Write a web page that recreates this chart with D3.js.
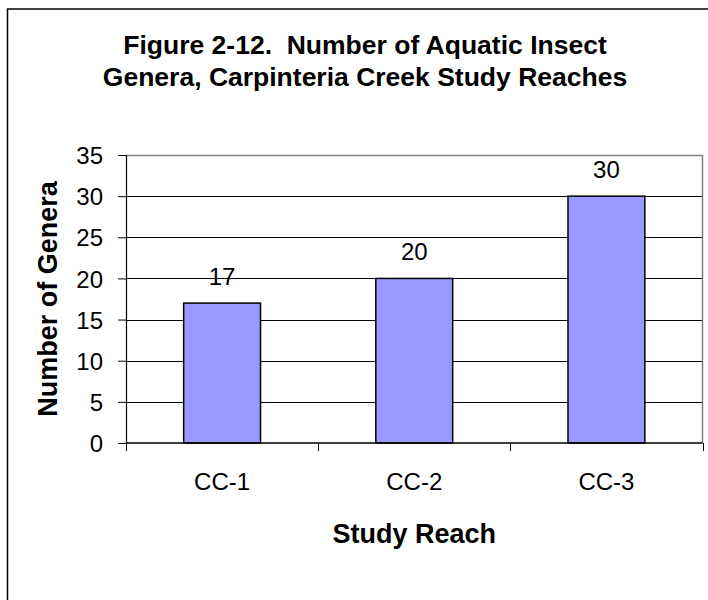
<!DOCTYPE html>
<html>
<head>
<meta charset="utf-8">
<script src="https://cdn.jsdelivr.net/npm/d3@7/dist/d3.min.js"></script>
<style>
  html, body { margin: 0; padding: 0; background: #fff; }
  svg { display: block; font-family: "Liberation Sans", Arial, sans-serif; }
  text { white-space: pre; }
</style>
</head>
<body>
<svg id="chart" width="708" height="600"></svg>
<script>
// Study reaches and the number of aquatic insect genera found in each
const reaches = ["CC-1", "CC-2", "CC-3"];
const genera = [17, 20, 30];
const yTicks = [0, 5, 10, 15, 20, 25, 30, 35];
const titleLines = ["Figure 2-12.  Number of Aquatic Insect", "Genera, Carpinteria Creek Study Reaches"];

const svg = d3.select("#chart");

// chart frame
svg.append("rect")
  .attr("x", 7.5).attr("y", 9)
  .attr("width", 740).attr("height", 640)
  .attr("fill", "#fff").attr("stroke", "#000").attr("stroke-width", 1.5);

const plot = { left: 126, right: 702.5, top: 155, bottom: 443 };

const x = d3.scaleBand().domain(reaches).range([plot.left, plot.right]).paddingInner(0).paddingOuter(0);
const y = d3.scaleLinear().domain([0, 35]).range([plot.bottom, plot.top]);

// horizontal gridlines
svg.append("g")
  .selectAll("line")
  .data(yTicks.filter(d => d > 0 && d < 35))
  .join("line")
  .attr("x1", plot.left).attr("x2", plot.right)
  .attr("y1", d => Math.round(y(d)) + 0.5).attr("y2", d => Math.round(y(d)) + 0.5)
  .attr("stroke", "#000").attr("stroke-width", 1);

// plot border (top and right)
svg.append("path")
  .attr("d", `M${plot.left},${plot.top + 0.5}H${plot.right}V${plot.bottom}`)
  .attr("fill", "none").attr("stroke", "#808080").attr("stroke-width", 1.5);

// bars
const rows = reaches.map((r, i) => ({ r, v: genera[i] }));
const barW = x.bandwidth() * 0.4;
svg.append("g")
  .selectAll("rect")
  .data(rows)
  .join("rect")
  .attr("x", d => x(d.r) + (x.bandwidth() - barW) / 2)
  .attr("y", d => y(d.v))
  .attr("width", barW)
  .attr("height", d => y(0) - y(d.v))
  .attr("fill", "#9999ff").attr("stroke", "#000").attr("stroke-width", 1.5);

// value labels
svg.append("g")
  .selectAll("text")
  .data(rows)
  .join("text")
  .attr("x", d => x(d.r) + x.bandwidth() / 2)
  .attr("y", d => y(d.v) - 18)
  .attr("text-anchor", "middle")
  .attr("font-size", 24)
  .attr("fill", "#000")
  .text(d => d.v);

// y axis
const yAxis = d3.axisLeft(y).tickValues(yTicks).tickSize(8).tickPadding(15);
const gy = svg.append("g").attr("transform", `translate(${plot.left},0)`).call(yAxis);
gy.select(".domain").attr("stroke", "#000").attr("stroke-width", 1.2);
gy.selectAll(".tick line").attr("stroke", "#000");
gy.selectAll(".tick text")
  .attr("font-size", 24).attr("fill", "#000").attr("dy", "0.36em");

// x axis with ticks at the category boundaries
const gx = svg.append("g").attr("transform", `translate(0,${plot.bottom})`);
gx.append("line")
  .attr("x1", plot.left).attr("x2", plot.right)
  .attr("stroke", "#000").attr("stroke-width", 1.5);
gx.selectAll("line.tick")
  .data(reaches.map(r => x(r)).concat([x(reaches[reaches.length - 1]) + x.bandwidth()]))
  .join("line")
  .attr("class", "tick")
  .attr("x1", d => Math.round(d) + 0.5).attr("x2", d => Math.round(d) + 0.5)
  .attr("y1", 0).attr("y2", 8)
  .attr("stroke", "#000");
gx.selectAll("text")
  .data(reaches)
  .join("text")
  .attr("x", d => x(d) + x.bandwidth() / 2)
  .attr("y", 47)
  .attr("text-anchor", "middle")
  .attr("font-size", 24)
  .text(d => d);

// axis titles
svg.append("text")
  .attr("x", (plot.left + plot.right) / 2).attr("y", 543)
  .attr("text-anchor", "middle")
  .attr("font-size", 27).attr("font-weight", "bold")
  .text("Study Reach");

svg.append("text")
  .attr("transform", `translate(57,${(plot.top + plot.bottom) / 2}) rotate(-90)`)
  .attr("text-anchor", "middle")
  .attr("font-size", 27).attr("font-weight", "bold")
  .text("Number of Genera");

// title
svg.append("g")
  .selectAll("text")
  .data(titleLines)
  .join("text")
  .attr("x", 365)
  .attr("y", (d, i) => 54 + i * 32)
  .attr("text-anchor", "middle")
  .attr("font-size", 26.5).attr("font-weight", "bold")
  .text(d => d);
</script>
</body>
</html>
